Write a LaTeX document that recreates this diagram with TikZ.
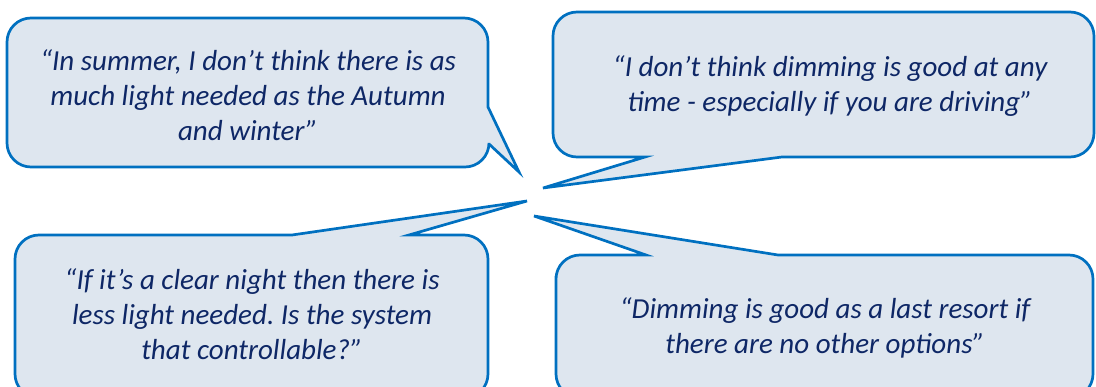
\documentclass[tikz,border=0pt]{standalone}
\usepackage{fontspec}
\setmainfont{Carlito}
\usepackage{tikz}
\definecolor{bubblefill}{HTML}{DEE6EF}
\definecolor{bubbleline}{HTML}{0070C0}
\definecolor{quotetext}{HTML}{0E2766}
\frenchspacing

\begin{document}
\begin{tikzpicture}[x=1pt, y=-1pt,
    bubble/.style={draw=bubbleline, fill=bubblefill, line width=2.7pt},
    quote/.style={text=quotetext, align=center, font=\fontsize{29}{35}\selectfont\itshape}]
                \useasboundingbox (0,0) rectangle (1096,387);
                \clip (0,0) rectangle (1096,387);
                \coordinate (T_1) at (519,172);
                \coordinate (T_2) at (543,188);
                \coordinate (T_3) at (527,201);
                \coordinate (T_4) at (534,216);
                \draw[bubble, rounded corners=24pt] (250,18) -- (488,18) [sharp corners] -- (488,107) -- (T_1) -- (489,144) [rounded corners=24pt] -- (489,167) -- (7,167) -- (7,18) -- cycle;
                \draw[bubble, rounded corners=24pt] (820,12) -- (1094,12) -- (1094,157) [sharp corners] -- (782,157) -- (T_2) -- (645,157) [rounded corners=24pt] -- (553,157) -- (553,12) -- cycle;
                \draw[bubble, rounded corners=24pt] (15,300) -- (15,235) [sharp corners] -- (292,235) -- (T_3) -- (409,235) [rounded corners=24pt] -- (488,235) -- (488,398) -- (15,398) -- cycle;
                \draw[bubble, rounded corners=24pt] (556,300) -- (556,255) [sharp corners] -- (646,255) -- (T_4) -- (778,255) [rounded corners=24pt] -- (1093,255) -- (1093,398) -- (556,398) -- cycle;
                %\draw[bubbleline] (T_1) -- (T_4);
                \node[quote] (Q_1) at (248,95) {“In summer, I don’t think there is as\\much light needed as the Autumn\\and winter”};
                \node[quote] (Q_2) at (830,86) {“I don’t think dimming is good at any\\time - especially if you are driving”};
                \node[quote] (Q_3) at (252,314) {“If it’s a clear night then there is\\less light needed. Is the system\\that controllable?”};
                \node[quote] (Q_4) at (825,328) {“Dimming is good as a last resort if\\there are no other options”};
            \end{tikzpicture}
\end{document}
